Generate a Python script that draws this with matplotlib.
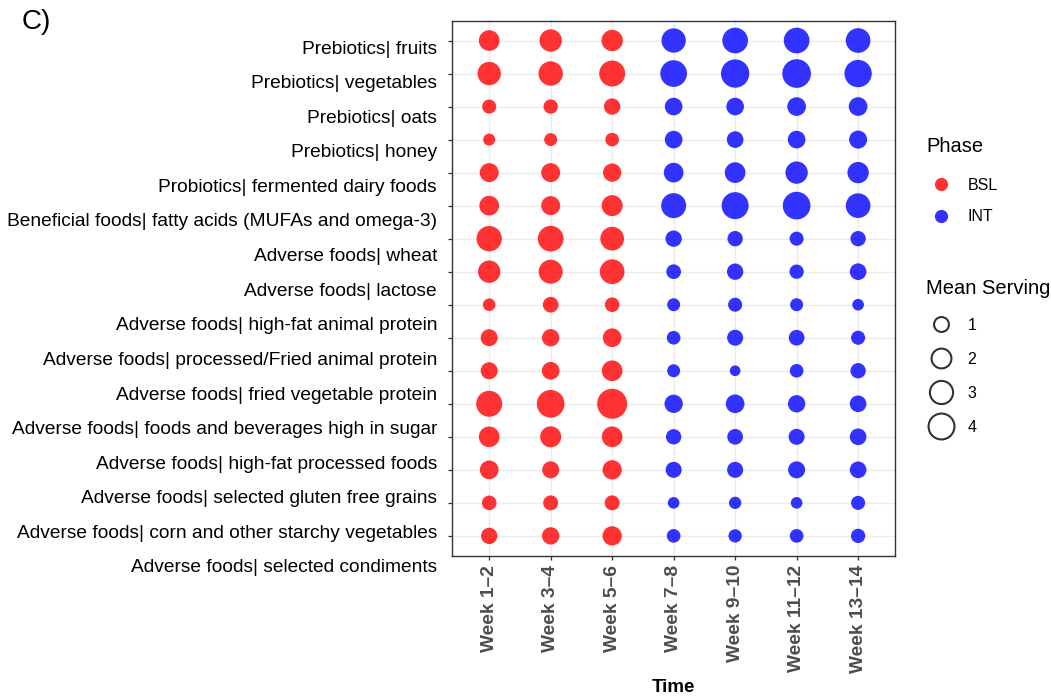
import numpy as np
import matplotlib
matplotlib.use("Agg")
import matplotlib.pyplot as plt
from matplotlib.lines import Line2D

plt.rcParams['font.family'] = ['Liberation Sans', 'DejaVu Sans']

categories = [
    "Prebiotics| fruits",
    "Prebiotics| vegetables",
    "Prebiotics| oats",
    "Prebiotics| honey",
    "Probiotics| fermented dairy foods",
    "Beneficial foods| fatty acids (MUFAs and omega-3)",
    "Adverse foods| wheat",
    "Adverse foods| lactose",
    "Adverse foods| high-fat animal protein",
    "Adverse foods| processed/Fried animal protein",
    "Adverse foods| fried vegetable protein",
    "Adverse foods| foods and beverages high in sugar",
    "Adverse foods| high-fat processed foods",
    "Adverse foods| selected gluten free grains",
    "Adverse foods| corn and other starchy vegetables",
    "Adverse foods| selected condiments",
]
weeks = ["Week 1\u20132", "Week 3\u20134", "Week 5\u20136", "Week 7\u20138",
         "Week 9\u201310", "Week 11\u201312", "Week 13\u201314"]
phases = ["BSL", "BSL", "BSL", "INT", "INT", "INT", "INT"]

week_1_2 = [1.69, 2.39, 0.67, 0.56, 1.34, 1.47, 3.02, 2.11, 0.58, 1.00, 1.00, 3.25, 1.69, 1.28, 0.72, 0.91]
week_3_4 = [2.11, 2.69, 0.69, 0.60, 1.34, 1.34, 3.14, 2.59, 0.83, 1.05, 1.10, 3.88, 1.77, 1.00, 0.75, 1.05]
week_5_6 = [1.85, 3.25, 0.91, 0.64, 1.21, 1.77, 2.49, 2.80, 0.72, 1.28, 1.69, 4.86, 1.69, 1.40, 0.75, 1.40]
week_7_8 = [2.69, 3.50, 1.10, 1.10, 1.47, 2.91, 0.91, 0.72, 0.60, 0.64, 0.60, 1.21, 0.79, 0.87, 0.55, 0.64]
week_9_10 = [3.14, 4.14, 1.10, 0.95, 1.69, 3.62, 0.79, 0.91, 0.67, 0.87, 0.54, 1.28, 0.83, 0.87, 0.57, 0.62]
week_11_12 = [3.14, 4.28, 1.28, 1.10, 2.11, 3.88, 0.67, 0.69, 0.60, 0.83, 0.64, 1.05, 0.87, 1.00, 0.55, 0.64]
week_13_14 = [2.80, 3.75, 1.28, 1.16, 1.85, 2.80, 0.79, 0.95, 0.55, 0.67, 0.79, 0.95, 0.95, 0.95, 0.67, 0.69]
series = [week_1_2, week_3_4, week_5_6, week_7_8, week_9_10, week_11_12, week_13_14]

size_breaks = [1, 2, 3, 4]

phase_colors = {"BSL": (1.0, 0.0, 0.0, 0.8), "INT": (0.0, 0.0, 1.0, 0.8)}

allv = np.concatenate([np.array(s, float) for s in series])
vmin, vmax = allv.min(), allv.max()
DMIN, DMAX = 7.7, 21.6  # diameter range in points


def diam(v):
    v = np.asarray(v, float)
    return DMIN + (DMAX - DMIN) * np.sqrt(np.clip((v - vmin) / (vmax - vmin), 0, 1))


W, H = 1051, 699
fig = plt.figure(figsize=(W / 100, H / 100), dpi=100)

L, R, T, B = 452.3, 895.0, 20.7, 555.7
ax = fig.add_axes([L / W, 1 - B / H, (R - L) / W, (B - T) / H])

for j, vals in enumerate(series):
    vals = np.array(vals, float)
    ys = np.arange(len(categories))
    xs = np.full(len(categories), j)
    ax.scatter(xs, ys, s=diam(vals) ** 2, color=phase_colors[phases[j]],
               linewidths=0, zorder=3)

ax.set_xlim(-0.6, len(weeks) - 1 + 0.6)
ax.set_ylim(len(categories) - 1 + 0.6, -0.6)
ax.set_xticks(range(len(weeks)))
ax.set_xticklabels(weeks, rotation=90, fontsize=13.8, fontweight='bold', color='#4D4D4D')
ax.set_yticks(range(len(categories)))
ax.set_yticklabels([""] * len(categories))
ax.grid(True, color='#EBEBEB', linewidth=1.0, zorder=0)
ax.set_axisbelow(True)
for sp in ax.spines.values():
    sp.set_color('#333333')
    sp.set_linewidth(1.0)
ax.tick_params(axis='both', length=3.0, width=0.9, color='#333333')
ax.tick_params(axis='x', pad=3.5)
ax.set_xlabel("Time", fontsize=13.5, fontweight='bold', labelpad=4)

# category labels (offset spacing as in the reference)
lab_top, lab_step = 47.0, 34.6
n = len(categories)
top_px = lab_top - lab_step / 2
h_px = lab_step * n
axl = fig.add_axes([L / W, 1 - (top_px + h_px) / H, 0.001, h_px / H])
axl.set_ylim(n - 0.5, -0.5)
axl.set_yticks(range(n))
axl.set_yticklabels(categories, fontsize=13.8, color='black')
axl.set_xticks([])
axl.set_frame_on(False)
axl.tick_params(axis='y', length=0, pad=11)
axl.patch.set_alpha(0)

fig.text(22 / W, 1 - 22 / H, "C)", fontsize=20, ha='left', va='center')

# Phase legend
fig.text(926 / W, 1 - 146 / H, "Phase", fontsize=14.5, ha='left', va='center')
ph_handles = [Line2D([], [], marker='o', ls='', markersize=9.5, markeredgewidth=0,
                     color=phase_colors[p]) for p in ["BSL", "INT"]]
leg1 = fig.legend(handles=ph_handles, labels=["BSL", "INT"],
                  loc='upper left', bbox_to_anchor=(926 / W, 1 - 177.5 / H),
                  frameon=False, fontsize=11.5,
                  borderpad=0, borderaxespad=0,
                  handlelength=1.9, handletextpad=0.7, labelspacing=1.04)

# Mean Serving legend
fig.text(926 / W, 1 - 288 / H, "Mean Serving", fontsize=14.5, ha='left', va='center')
lw = 1.5
sz_handles = [Line2D([], [], marker='o', ls='', markersize=float(diam(b)) - lw,
                     markeredgewidth=lw, markerfacecolor='none', markeredgecolor='#333333')
              for b in size_breaks]
leg2 = fig.legend(handles=sz_handles, labels=[str(b) for b in size_breaks],
                  loc='upper left', bbox_to_anchor=(926 / W, 1 - 317.5 / H),
                  frameon=False, fontsize=11.5,
                  borderpad=0, borderaxespad=0,
                  handlelength=1.9, handletextpad=0.7, labelspacing=1.2)

fig.savefig("out.png", dpi=100)
